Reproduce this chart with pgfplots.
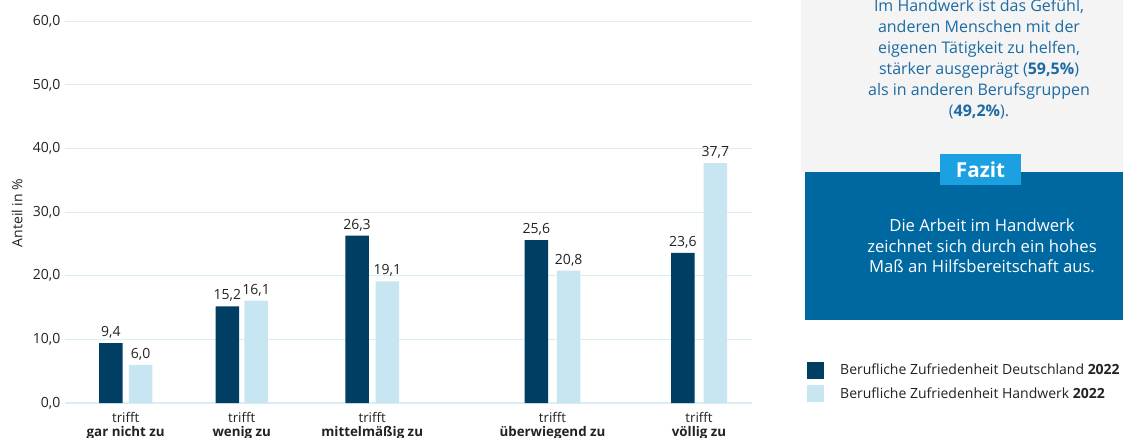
\documentclass[border=0pt]{standalone}
\usepackage{pgfplots}
\pgfplotsset{compat=1.18}
\usepackage{fontspec}
\setmainfont{Open Sans}
\definecolor{darkbar}{HTML}{003F63}
\definecolor{lightbar}{HTML}{C7E6F1}
\definecolor{gridc}{HTML}{DCEEF5}
\definecolor{panelgray}{HTML}{F4F4F4}
\definecolor{boxblue}{HTML}{0068A0}
\definecolor{badge}{HTML}{1BA1E2}
\definecolor{textblue}{HTML}{1D6BA3}
\definecolor{txt}{HTML}{222222}
\begin{document}
\begin{tikzpicture}[x=0.75pt,y=0.75pt]
\useasboundingbox (0,0) rectangle (1123,438);
% right panel
\fill[panelgray] (801,438) rectangle (1123,266);
\fill[boxblue] (805,266) rectangle (1123,118);
\fill[badge] (940,284) rectangle (1021,253);
\node[white, font=\bfseries\fontsize{15.5}{17}\selectfont] at (980.5,268.5) {Fazit};
\node[text=textblue, align=center, font=\fontsize{12}{15.75}\selectfont] at (979,379)
  {Im Handwerk ist das Gefühl,\\anderen Menschen mit der\\eigenen Tätigkeit zu helfen,\\stärker ausgeprägt (\textbf{59,5\%})\\als in anderen Berufsgruppen\\(\textbf{49,2\%}).};
\node[white, align=center, font=\fontsize{12.5}{15.5}\selectfont] at (982,192)
  {Die Arbeit im Handwerk\\zeichnet sich durch ein hohes\\Maß an Hilfsbereitschaft aus.};
\node[rotate=90, text=txt, font=\fontsize{10.5}{12}\selectfont] at (17,225) {Anteil in \%};
\begin{axis}[
  at={(65,55)}, anchor=south west, scale only axis,
  width=515.25pt, height=286.3pt,
  xmin=65, xmax=752, ymin=0, ymax=60,
  ytick={0,10,...,60},
  ymajorgrids, grid style={gridc, line width=0.9pt},
  axis line style={draw=none}, tick style={draw=none},
  clip=false,
  /pgf/number format/use comma,
  /pgf/number format/fixed,
  /pgf/number format/fixed zerofill,
  /pgf/number format/precision=1,
  /pgf/number format/assume math mode=true,
  yticklabel style={text=txt, font=\fontsize{10.5}{12}\selectfont},
  xtick={125.7,241.7,372.2,552.5,699},
  xticklabels={{trifft\\\textbf{gar nicht zu}},{trifft\\\textbf{wenig zu}},{trifft\\\textbf{mittelmäßig zu}},{trifft\\\textbf{überwiegend zu}},{trifft\\\textbf{völlig zu}}},
  xticklabel style={align=center, text=txt, yshift=1pt, font=\fontsize{10}{10.6}\selectfont},
  ybar, bar width=23.5,
  nodes near coords,
  every node near coord/.append style={text=txt, font=\fontsize{10.5}{12}\selectfont},
  legend cell align=left,
  legend style={at={(1.080,0.110)}, anchor=north west, draw=none, fill=none,
    inner sep=0pt, row sep=4pt, font=\fontsize{10.5}{12}\selectfont, text=txt},
  legend image code/.code={\fill[#1] (0pt,-6.4pt) rectangle (12.75pt,6.4pt);},
]
\addplot[bar shift=0pt, fill=darkbar, draw=none] coordinates {
  (110.8,9.4) (227.3,15.2) (357.0,26.3) (536.3,25.6) (682.8,23.6)};
\addlegendentry{\hspace{10pt}Berufliche Zufriedenheit Deutschland \textbf{2022}}
\addplot[bar shift=0pt, fill=lightbar, draw=none] coordinates {
  (140.7,6.0) (256.2,16.1) (387.3,19.1) (568.7,20.8) (715.3,37.7)};
\addlegendentry{\hspace{10pt}Berufliche Zufriedenheit Handwerk \textbf{2022}}
\end{axis}
\end{tikzpicture}
\end{document}
